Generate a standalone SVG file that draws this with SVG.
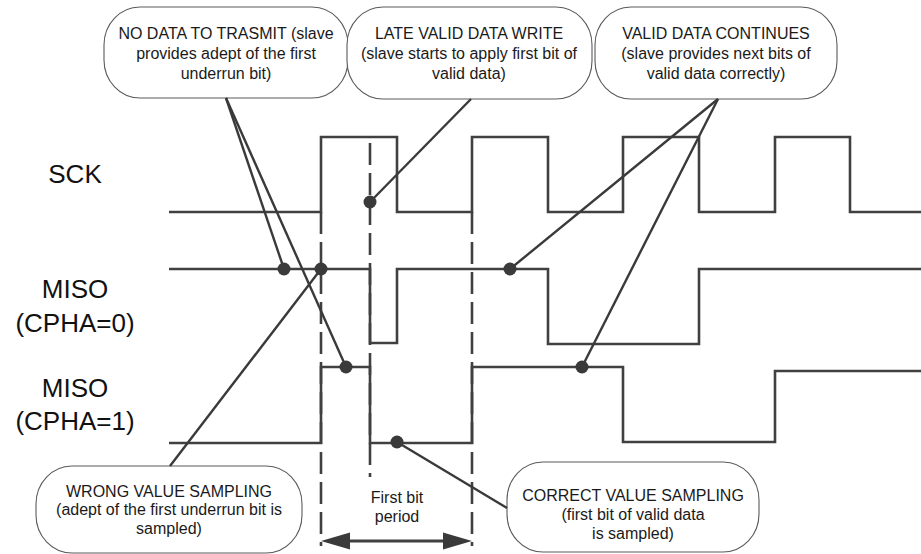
<svg xmlns="http://www.w3.org/2000/svg" width="921" height="554" viewBox="0 0 921 554">
  <style>
    .wave { fill: none; stroke: #404040; stroke-width: 2.6; stroke-linejoin: miter; }
    .grid { fill: none; stroke: #404040; stroke-width: 2.6; stroke-dasharray: 22 8; }
    .lead { fill: none; stroke: #3a3a3a; stroke-width: 2.4; }
    .dot { fill: #3a3a3a; }
    .box { fill: #ffffff; stroke: #5a5a5a; stroke-width: 1.1; }
    .note { font-family: "Liberation Sans", Arial, sans-serif; font-size: 16px; fill: #1a1a1a; text-anchor: middle; }
    .sig { font-family: "Liberation Sans", Arial, sans-serif; font-size: 26px; fill: #111111; text-anchor: middle; }
  </style>

  <!-- signal names -->
  <g id="labels">
    <text class="sig" x="75" y="183">SCK</text>
    <text class="sig" x="75" y="298">MISO</text>
    <text class="sig" x="75" y="332">(CPHA=0)</text>
    <text class="sig" x="75" y="397">MISO</text>
    <text class="sig" x="75" y="430">(CPHA=1)</text>
  </g>

  <!-- waveforms -->
  <g id="sck">
    <polyline class="wave" points="169,212 321,212 321,137 397,137 397,212 472,212 472,137 548,137 548,212 623,212 623,137 699,137 699,212 775,212 775,137 850,137 850,212 921,212"/>
  </g>
  <g id="miso-cpha0">
    <polyline class="wave" points="169,269 370,269 370,343 397,343 397,269 548,269 548,344 699,344 699,269 921,269"/>
  </g>
  <g id="miso-cpha1">
    <polyline class="wave" points="169,443 321,443 321,367 370,367 370,443 472,443 472,367 623,367 623,442 775,442 775,371 921,371"/>
  </g>

  <!-- bit period markers -->
  <g id="period">
    <line class="grid" x1="321" y1="212" x2="321" y2="546"/>
    <line class="grid" x1="370" y1="143" x2="370" y2="477"/>
    <line class="grid" x1="472" y1="212" x2="472" y2="546"/>
    <line x1="345" y1="541" x2="448" y2="541" stroke="#404040" stroke-width="3"/>
    <polygon class="dot" points="321,541 350,532.5 350,549.5"/>
    <polygon class="dot" points="472,541 443,532.5 443,549.5"/>
    <text class="note" x="397" y="503">First bit</text>
    <text class="note" x="397" y="522">period</text>
  </g>

  <!-- callout boxes -->
  <g id="note-no-data">
    <rect class="box" x="104" y="7" width="244" height="91" rx="36" ry="38"/>
    <text class="note" x="226" y="39">NO DATA TO TRASMIT (slave</text>
    <text class="note" x="226" y="59">provides adept of the first</text>
    <text class="note" x="226" y="79">underrun bit)</text>
  </g>
  <g id="note-late-write">
    <rect class="box" x="347" y="7" width="245" height="92" rx="36" ry="38"/>
    <text class="note" x="469" y="39">LATE VALID DATA WRITE</text>
    <text class="note" x="469" y="59">(slave starts to apply first bit of</text>
    <text class="note" x="469" y="79">valid data)</text>
  </g>
  <g id="note-continues">
    <rect class="box" x="595" y="7" width="242" height="92" rx="36" ry="38"/>
    <text class="note" x="716" y="39">VALID DATA CONTINUES</text>
    <text class="note" x="716" y="59">(slave provides next bits of</text>
    <text class="note" x="716" y="79">valid data correctly)</text>
  </g>
  <g id="note-wrong">
    <rect class="box" x="36" y="466" width="266" height="87" rx="36" ry="38"/>
    <text class="note" x="169" y="497">WRONG VALUE SAMPLING</text>
    <text class="note" x="169" y="515">(adept of the first underrun bit is</text>
    <text class="note" x="169" y="534">sampled)</text>
  </g>
  <g id="note-correct">
    <rect class="box" x="507" y="462" width="252" height="90" rx="36" ry="38"/>
    <text class="note" x="633" y="501">CORRECT VALUE SAMPLING</text>
    <text class="note" x="633" y="520">(first bit of valid data</text>
    <text class="note" x="633" y="539">is sampled)</text>
  </g>

  <!-- leader lines from notes to sampling points -->
  <g id="connectors">
    <line class="lead" x1="226" y1="98" x2="284" y2="269"/>
    <line class="lead" x1="226" y1="98" x2="346" y2="367"/>
    <line class="lead" x1="321" y1="269" x2="170" y2="466"/>
    <line class="lead" x1="471" y1="99" x2="370" y2="202"/>
    <line class="lead" x1="718" y1="99" x2="510" y2="269"/>
    <line class="lead" x1="718" y1="99" x2="582" y2="367"/>
    <line class="lead" x1="397" y1="442" x2="507" y2="508"/>
    <circle class="dot" cx="284" cy="269" r="6.5"/>
    <circle class="dot" cx="321" cy="269" r="6.5"/>
    <circle class="dot" cx="346" cy="367" r="6.5"/>
    <circle class="dot" cx="370" cy="202" r="6.5"/>
    <circle class="dot" cx="397" cy="442" r="6.5"/>
    <circle class="dot" cx="510" cy="269" r="6.5"/>
    <circle class="dot" cx="582" cy="367" r="6.5"/>
  </g>
</svg>
